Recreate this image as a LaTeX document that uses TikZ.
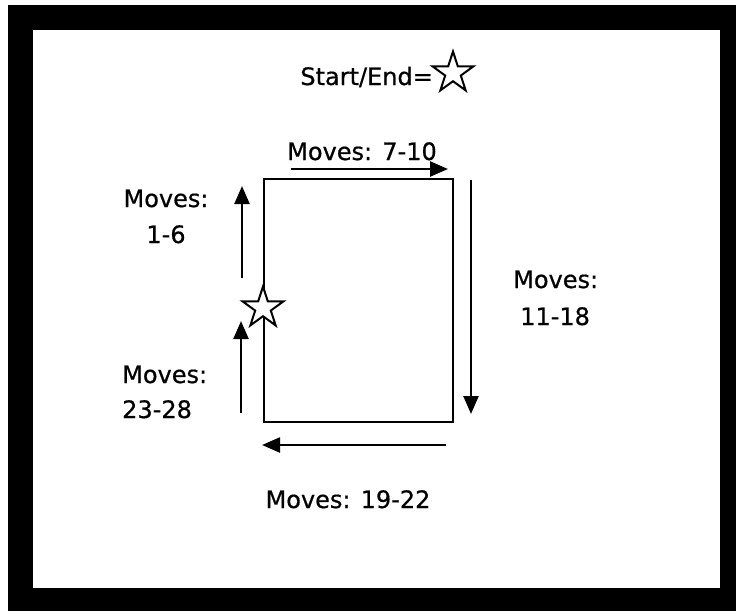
\documentclass[tikz,border=0pt]{standalone}
\usepackage{fontspec}
\setmainfont[FakeBold=0.6]{DejaVu Sans}
\usetikzlibrary{arrows.meta,shapes.geometric}
\begin{document}
\begin{tikzpicture}[x=1pt,y=-1pt,
  lbl/.style={inner sep=0pt,font=\fontsize{24}{28}\selectfont},
  edge/.style={line width=2.4pt},
  mv/.style={line width=2.4pt,-{Triangle[length=18pt,width=15pt]}},
  starmark/.style={shape=star,star points=5,star point ratio=2.618,minimum size=43pt,inner sep=0pt,draw,line width=2pt,fill=white}]
\useasboundingbox (0,0) rectangle (736,611);
% frame
\fill[black] (8,5) rectangle (736,611);
\fill[white] (33,30) rectangle (720,588);
% title
\node[lbl,anchor=base east] (title) at (433,85) {Start/End=};
\node[starmark] (legendstar) at (453,73) {};
% rectangle path
\coordinate (tl) at (264,179);
\coordinate (tr) at (453,179);
\coordinate (br) at (453,422);
\coordinate (bl) at (264,422);
\draw[edge,line join=miter] (tl) -- (tr) -- (br) -- (bl) -- cycle;
\node[starmark] (start) at (263,308) {};
% arrows
\coordinate (a1s) at (242,278); \coordinate (a1e) at (242,186);
\coordinate (a2s) at (291,169); \coordinate (a2e) at (448,169);
\coordinate (a3s) at (471,180); \coordinate (a3e) at (471,414);
\coordinate (a4s) at (446,445); \coordinate (a4e) at (262,445);
\coordinate (a5s) at (241,413); \coordinate (a5e) at (241,321);
\draw[mv] (a1s) -- (a1e);
\draw[mv] (a2s) -- (a2e);
\draw[mv] (a3s) -- (a3e);
\draw[mv] (a4s) -- (a4e);
\draw[mv] (a5s) -- (a5e);
% labels
\node[lbl,anchor=base] (m710) at (362,160) {Moves: 7-10};
\node[lbl,anchor=base] (m16a) at (166,207) {Moves:};
\node[lbl,anchor=base] (m16b) at (166,243) {1-6};
\node[lbl,anchor=base west] (m1118a) at (513,288) {Moves:};
\node[lbl,anchor=base west] (m1118b) at (520,325) {11-18};
\node[lbl,anchor=base west] (m2328a) at (122,383) {Moves:};
\node[lbl,anchor=base west] (m2328b) at (122,418) {23-28};
\node[lbl,anchor=base] (m1922) at (348,508) {Moves: 19-22};
\end{tikzpicture}
\end{document}
